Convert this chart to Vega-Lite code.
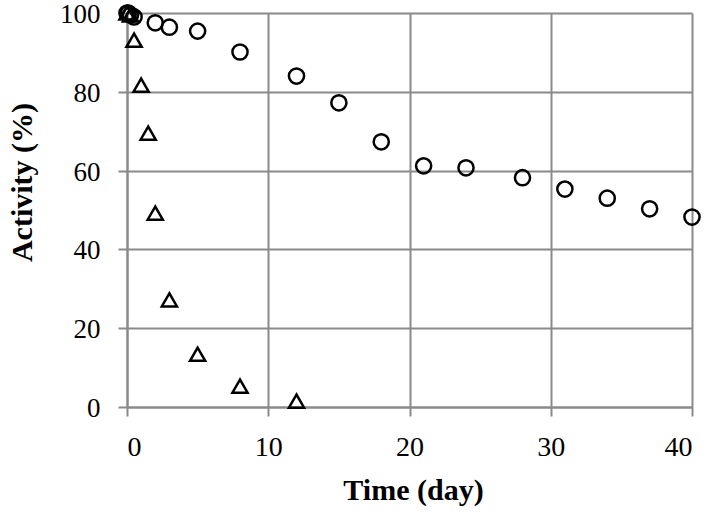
{
  "$schema": "https://vega.github.io/schema/vega-lite/v6.json",
  "autosize": "none",
  "width": 565,
  "height": 394,
  "padding": {"left": 127, "top": 13, "right": 20, "bottom": 112},
  "background": "white",
  "config": {"view": {"stroke": null}, "font": "Liberation Serif"},
  "data": {"values": [
    {"t": 0, "a": 100, "s": "circle"},
    {"t": 0.1, "a": 100, "s": "circle"},
    {"t": 0.25, "a": 99.5, "s": "circle"},
    {"t": 0.5, "a": 99, "s": "circle"},
    {"t": 2, "a": 97.5, "s": "circle"},
    {"t": 3, "a": 96.4, "s": "circle"},
    {"t": 5, "a": 95.4, "s": "circle"},
    {"t": 8, "a": 90.1, "s": "circle"},
    {"t": 12, "a": 84, "s": "circle"},
    {"t": 15, "a": 77.2, "s": "circle"},
    {"t": 18, "a": 67.3, "s": "circle"},
    {"t": 21, "a": 61.2, "s": "circle"},
    {"t": 24, "a": 60.7, "s": "circle"},
    {"t": 28, "a": 58.2, "s": "circle"},
    {"t": 31, "a": 55.3, "s": "circle"},
    {"t": 34, "a": 53, "s": "circle"},
    {"t": 37, "a": 50.3, "s": "circle"},
    {"t": 40, "a": 48.2, "s": "circle"},
    {"t": 0, "a": 100, "s": "triangle"},
    {"t": 0.25, "a": 99.5, "s": "triangle"},
    {"t": 0.5, "a": 93.1, "s": "triangle"},
    {"t": 1, "a": 81.7, "s": "triangle"},
    {"t": 1.5, "a": 69.5, "s": "triangle"},
    {"t": 2, "a": 49.2, "s": "triangle"},
    {"t": 3, "a": 27.2, "s": "triangle"},
    {"t": 5, "a": 13.4, "s": "triangle"},
    {"t": 8, "a": 5.3, "s": "triangle"},
    {"t": 12, "a": 1.5, "s": "triangle"}
  ]},
  "mark": {"type": "point", "filled": false, "stroke": "black", "strokeWidth": 2.5, "opacity": 1},
  "encoding": {
    "x": {"field": "t", "type": "quantitative", "scale": {"domain": [0, 40], "nice": false},
      "axis": {"values": [0, 10, 20, 30, 40], "title": "Time (day)", "grid": true, "gridColor": "#8a8a8a", "gridWidth": 2,
        "domainColor": "#8a8a8a", "domainWidth": 2, "tickColor": "#8a8a8a", "tickWidth": 2, "tickSize": 9,
        "labelFontSize": 28, "labelColor": "black", "labelPadding": 17, "labelFont": "Liberation Serif",
        "titleFontSize": 30, "titleFontWeight": "bold", "titleColor": "black", "titlePadding": 14, "titleFont": "Liberation Serif", "titleX": 286}},
    "y": {"field": "a", "type": "quantitative", "scale": {"domain": [0, 100], "nice": false},
      "axis": {"values": [0, 20, 40, 60, 80, 100], "title": "Activity (%)", "grid": true, "gridColor": "#8a8a8a", "gridWidth": 2,
        "domainColor": "#8a8a8a", "domainWidth": 2, "tickColor": "#8a8a8a", "tickWidth": 2, "tickSize": 9,
        "labelFontSize": 27, "labelColor": "black", "labelPadding": 18, "labelFont": "Liberation Serif", "labelOffset": 1.5,
        "titleFontSize": 30, "titleFontWeight": "bold", "titleColor": "black", "titlePadding": 22, "titleFont": "Liberation Serif", "titleY": 169}},
    "shape": {"field": "s", "type": "nominal", "scale": {"domain": ["circle", "triangle"], "range": ["circle", "triangle-up"]}, "legend": null},
    "size": {"field": "s", "type": "nominal", "scale": {"domain": ["circle", "triangle"], "range": [230, 230]}, "legend": null}
  }
}
